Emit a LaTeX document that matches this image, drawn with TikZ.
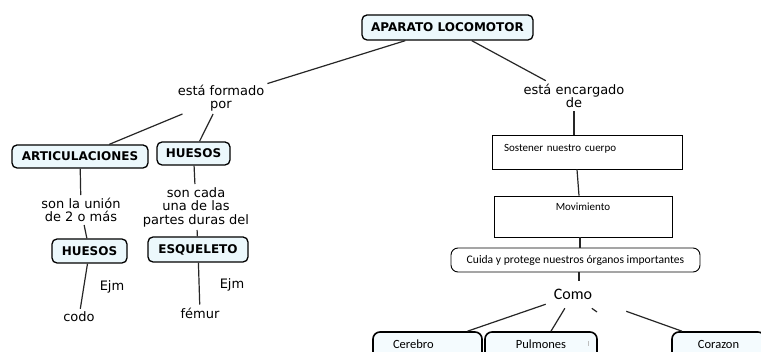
\documentclass[tikz,border=0pt]{standalone}
\usepackage{fontspec}
\setmainfont{DejaVu Sans}
\newfontfamily\carl{Carlito}
\definecolor{cfill}{RGB}{236,248,252}
\definecolor{ofill}{RGB}{244,251,254}
\begin{document}
\begin{tikzpicture}[x=1pt,y=-1pt,
  concept/.style={draw=black, line width=1.3pt, rounded corners=5pt, fill=cfill,
    font=\fontsize{12}{14}\selectfont\bfseries, inner sep=0pt},
  link/.style={font=\fontsize{13}{12.5}\selectfont, align=center, inner sep=3pt},
  conn/.style={line width=1.2pt, draw=black!85},
  rbox/.style={draw=black, line width=0.8pt, fill=white,
    font=\carl\fontsize{11}{13}\selectfont, inner sep=0pt},
  cbox/.style={draw=black, line width=0.9pt, rounded corners=7pt, fill=white,
    font=\carl\fontsize{11.6}{13}\selectfont, inner sep=0pt},
  obox/.style={draw=black, line width=1.6pt, rounded corners=7pt, fill=ofill,
    font=\carl\fontsize{12.5}{14}\selectfont, inner sep=0pt,
    minimum height=40pt, text height=9pt, text depth=15pt}]
\useasboundingbox (0,0) rectangle (761,352);
\clip (0,0) rectangle (761,352);
\fill[white] (0,0) rectangle (761,352);

% left side
\node[concept, minimum width=171pt, minimum height=25pt] (apar) at (447.5,27.5) {APARATO LOCOMOTOR};
\node[link] (formado) at (221,98) {está formado\\por};
\node[concept, minimum width=136pt, minimum height=23pt] (art) at (80,156.5) {ARTICULACIONES};
\node[concept, minimum width=73pt, minimum height=23pt] (hue1) at (193.5,153.5) {HUESOS};
\node[link, font=\fontsize{13}{13}\selectfont] (union) at (81,210) {son la unión\\de 2 o más};
\node[link, font=\fontsize{13}{13.5}\selectfont] (cada) at (196,207) {son cada\\una de las\\partes duras del};
\node[concept, minimum width=75pt, minimum height=24pt] (hue2) at (89.5,251) {HUESOS};
\node[concept, minimum width=100pt, minimum height=25pt] (esq) at (198,249.5) {ESQUELETO};
\node[link] (ejm1) at (112,287) {Ejm};
\node[link] (codo) at (79,317) {codo};
\node[link] (ejm2) at (232,285) {Ejm};
\node[link] (femur) at (200,313) {fémur};

% right side
\node[link] (encargado) at (574,96) {está encargado\\de};
\node[rbox, minimum width=190pt, minimum height=34pt, text width=166pt, align=left,
  text height=8pt, text depth=8pt] (sost) at (587,152) {Sostener nuestro cuerpo};
\node[rbox, minimum width=178pt, minimum height=41pt, text height=8pt, text depth=19pt] (mov) at (583,216.5) {Movimiento};
\node[cbox, minimum width=249pt, minimum height=24pt] (cuida) at (575.5,260) {Cuida y protege nuestros órganos importantes};
\node[font=\carl\fontsize{16}{16}\selectfont, inner sep=8pt, anchor=base] (como) at (573,300) {Como};
\node[obox, minimum width=109pt, text width=69pt, align=left] (cer) at (427.5,352) {Cerebro};
\node[obox, minimum width=112pt] (pul) at (541,352) {Pulmones};
\node[obox, minimum width=93pt] (cor) at (718.5,352) {Corazon};
\coordinate (tk) at (597,312);

% connectors
\draw[conn] (apar) -- (formado);
\draw[conn] (formado) -- (art);
\draw[conn] (formado) -- (hue1);
\draw[conn] (art) -- (union);
\draw[conn] (union) -- (hue2);
\draw[conn] (hue2) -- (codo);
\draw[conn] (hue1) -- (cada);
\draw[conn] (cada) -- (esq);
\draw[conn] (esq) -- (femur);
\draw[conn] (apar) -- (encargado);
\draw[conn] (encargado.south) -- (encargado.south |- sost.north);
\draw[conn] ([xshift=-10pt]sost.south) -- ([xshift=-4pt]mov.north);
\draw[conn] ([xshift=-3pt]mov.south) -- ([xshift=4.5pt]cuida.north);
\draw[conn] ([xshift=3.5pt]cuida.south) -- ([xshift=6pt]como.north);
\draw[conn] (como) -- ([xshift=40pt]cer.north);
\draw[conn] (como) -- ([xshift=10pt]pul.north);
\draw[conn] (como) -- (tk);
\draw[conn] ([xshift=26pt,yshift=-3pt]como.south east) -- ([xshift=-36.5pt]cor.north);
\draw[gray!50, line width=0.8pt] ([xshift=47pt,yshift=-10pt]pul.north) -- ([xshift=47pt,yshift=-15pt]pul.north);
\end{tikzpicture}
\end{document}
